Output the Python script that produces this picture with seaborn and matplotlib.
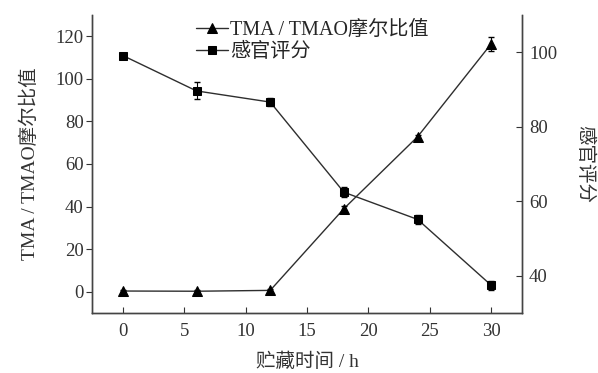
"""TMA/TMAO ratio and sensory score vs storage time."""
import matplotlib
matplotlib.use("Agg")
import matplotlib.pyplot as plt
import pandas as pd
import seaborn as sns

# data
hours = [0, 6, 12, 18, 24, 30]
tma_ratio = [0.3, 0.2, 0.6, 39.0, 72.8, 116.5]
tma_err = [0.5, 0.5, 0.8, 1.2, 1.0, 3.3]
sensory = [99.1, 89.6, 86.6, 62.4, 55.1, 37.4]
sensory_err = [0.6, 2.3, 1.0, 1.3, 1.2, 1.3]

x_ticks = [0, 5, 10, 15, 20, 25, 30]
left_ticks = [0, 20, 40, 60, 80, 100, 120]
right_ticks = [40, 60, 80, 100]

sns.set_style("ticks")
plt.rcParams["font.family"] = ["Liberation Serif", "Noto Sans CJK SC"]
plt.rcParams["font.size"] = 13.5

df = pd.DataFrame({"h": hours, "tma": tma_ratio, "sens": sensory})

fig = plt.figure(figsize=(5.98, 3.73), dpi=100)
ax = fig.add_axes([0.154, 0.161, 0.719, 0.799])
ax2 = ax.twinx()

line_col = "#2e2e2e"
sns.lineplot(data=df, x="h", y="tma", ax=ax, color=line_col, lw=1.0,
             marker="^", markersize=6.5, markerfacecolor="black",
             markeredgecolor="black", label="TMA / TMAO摩尔比值", legend=False)
ax.errorbar(hours, tma_ratio, yerr=tma_err, fmt="none", ecolor="black",
            elinewidth=0.8, capsize=2.5)
sns.lineplot(data=df, x="h", y="sens", ax=ax2, color=line_col, lw=1.0,
             marker="s", markersize=6, markerfacecolor="black",
             markeredgecolor="black", label="感官评分", legend=False)
ax2.errorbar(hours, sensory, yerr=sensory_err, fmt="none", ecolor="black",
             elinewidth=0.8, capsize=2.5)

ax.set_xlim(-2.5, 32.5)
ax.set_ylim(-10, 130)
ax2.set_ylim(30, 110)
ax.set_xticks(x_ticks)
ax.set_yticks(left_ticks)
ax2.set_yticks(right_ticks)

ax.set_xlabel("贮藏时间 / h", fontsize=14, color="#333333", labelpad=9)
ax.set_ylabel("TMA / TMAO摩尔比值", fontsize=14, color="#333333", labelpad=12)
ax2.set_ylabel("感官评分", fontsize=14, color="#333333", rotation=270,
               labelpad=26)

for a in (ax, ax2):
    a.spines["top"].set_visible(False)
    for s in a.spines.values():
        s.set_color("#444444")
        s.set_linewidth(1.0)
ax.tick_params(axis="y", direction="out", length=4, colors="#333333", pad=2)
ax.tick_params(axis="x", direction="in", length=4, colors="#333333", pad=7)
ax2.tick_params(axis="y", direction="in", length=4, colors="#333333", pad=5)

h1, l1 = ax.get_legend_handles_labels()
h2, l2 = ax2.get_legend_handles_labels()
ax.legend(h1 + h2, l1 + l2, loc="upper left", bbox_to_anchor=(0.20, 1.04),
          frameon=False, handlelength=1.6, handletextpad=0.1,
          labelspacing=0.15, fontsize=14.5)

fig.savefig("out.png", dpi=100)
